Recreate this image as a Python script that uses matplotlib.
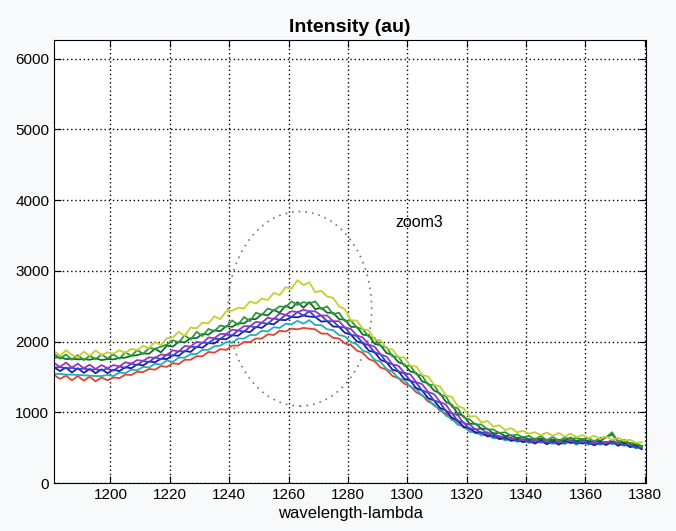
import numpy as np
import matplotlib
matplotlib.use("Agg")
import matplotlib.pyplot as plt
from matplotlib.patches import Ellipse

plt.rcParams['font.family'] = ['Liberation Sans', 'DejaVu Sans']

# wavelength samples (every 2 nm)
wl = np.arange(1181, 1381, 2)

yellow = [1870, 1800, 1880, 1815, 1780, 1860, 1800, 1875, 1810, 1850,
          1830, 1880, 1840, 1900, 1880, 1940, 1910, 2000, 1950, 2050,
          2060, 2140, 2080, 2200, 2190, 2270, 2260, 2360, 2320, 2430,
          2440, 2480, 2470, 2570, 2540, 2610, 2590, 2690, 2660, 2770,
          2750, 2870, 2800, 2840, 2700, 2720, 2640, 2620, 2500, 2460,
          2300, 2300, 2180, 2160, 2030, 2020, 1900, 1890, 1780, 1780,
          1660, 1650, 1530, 1510, 1390, 1370, 1240, 1220, 1090, 1060,
          940, 950, 860, 880, 800, 820, 750, 780, 720, 740,
          700, 720, 680, 715, 670, 710, 660, 700, 650, 680,
          640, 670, 625, 660, 610, 640, 600, 615, 570, 580]
green = [1830, 1760, 1820, 1745, 1810, 1740, 1800, 1755, 1820, 1765,
         1820, 1760, 1850, 1800, 1880, 1830, 1910, 1900, 1930, 1960,
         2020, 1990, 2090, 2030, 2140, 2080, 2180, 2150, 2230, 2210,
         2300, 2240, 2350, 2290, 2410, 2380, 2470, 2440, 2500, 2490,
         2570, 2520, 2560, 2540, 2570, 2460, 2500, 2390, 2410, 2290,
         2300, 2200, 2180, 2070, 2050, 1940, 1920, 1790, 1790, 1660,
         1660, 1540, 1520, 1390, 1390, 1250, 1230, 1080, 1060, 930,
         900, 830, 830, 760, 760, 710, 720, 670, 690, 645,
         670, 615, 670, 605, 655, 600, 645, 625, 640, 620,
         640, 590, 640, 650, 720, 585, 615, 560, 570, 520]
darkgreen = [1775, 1780, 1755, 1760, 1750, 1755, 1745, 1765, 1740, 1755,
             1750, 1770, 1775, 1800, 1810, 1835, 1830, 1900, 1850, 1945,
             1930, 2000, 1990, 2050, 2050, 2110, 2100, 2160, 2150, 2220,
             2210, 2260, 2260, 2320, 2320, 2390, 2370, 2450, 2410, 2510,
             2470, 2560, 2480, 2560, 2460, 2480, 2410, 2410, 2320, 2310,
             2210, 2210, 2100, 2090, 1970, 1950, 1840, 1810, 1710, 1680,
             1580, 1560, 1440, 1410, 1310, 1270, 1150, 1110, 980, 950,
             840, 840, 770, 770, 700, 715, 665, 680, 635, 655,
             615, 630, 625, 615, 610, 615, 600, 645, 590, 630,
             590, 600, 600, 650, 690, 590, 580, 570, 535, 530]
purple = [1700, 1645, 1705, 1635, 1690, 1625, 1675, 1615, 1670, 1625,
          1670, 1650, 1710, 1690, 1740, 1730, 1780, 1770, 1820, 1810,
          1880, 1860, 1940, 1930, 2000, 1980, 2060, 2050, 2110, 2110,
          2170, 2160, 2220, 2220, 2280, 2270, 2340, 2320, 2400, 2380,
          2430, 2420, 2450, 2430, 2430, 2370, 2370, 2290, 2290, 2200,
          2180, 2090, 2060, 1960, 1930, 1820, 1790, 1680, 1660, 1560,
          1540, 1430, 1400, 1290, 1260, 1150, 1110, 990, 960, 850,
          830, 760, 770, 700, 710, 650, 670, 625, 645, 605,
          625, 585, 635, 575, 620, 570, 615, 595, 605, 585,
          605, 560, 605, 565, 615, 555, 590, 535, 550, 505]
blue = [1635, 1640, 1625, 1630, 1615, 1620, 1605, 1610, 1595, 1620,
        1590, 1650, 1630, 1690, 1670, 1730, 1710, 1780, 1750, 1820,
        1800, 1870, 1860, 1930, 1920, 1990, 1980, 2040, 2040, 2100,
        2090, 2160, 2140, 2220, 2200, 2270, 2250, 2330, 2310, 2380,
        2350, 2420, 2370, 2430, 2350, 2370, 2290, 2290, 2210, 2200,
        2100, 2080, 1980, 1950, 1850, 1820, 1710, 1680, 1580, 1550,
        1450, 1420, 1310, 1280, 1170, 1140, 1020, 990, 880, 860,
        760, 770, 700, 720, 650, 670, 620, 645, 595, 625,
        580, 605, 585, 595, 570, 590, 565, 615, 555, 605,
        555, 580, 555, 585, 565, 575, 540, 555, 500, 520]
navy = [1640, 1585, 1635, 1565, 1625, 1560, 1615, 1555, 1610, 1555,
        1605, 1585, 1640, 1625, 1680, 1665, 1720, 1710, 1760, 1755,
        1810, 1800, 1870, 1855, 1930, 1915, 1980, 1975, 2040, 2035,
        2090, 2085, 2150, 2135, 2210, 2195, 2260, 2245, 2310, 2305,
        2350, 2345, 2370, 2355, 2350, 2285, 2290, 2215, 2210, 2125,
        2100, 2005, 1980, 1875, 1850, 1745, 1710, 1605, 1580, 1475,
        1450, 1345, 1310, 1205, 1170, 1065, 1030, 925, 890, 795,
        780, 715, 720, 665, 680, 625, 645, 600, 620, 580,
        605, 560, 610, 550, 600, 545, 595, 570, 585, 560,
        585, 535, 585, 540, 595, 530, 570, 510, 530, 480]
cyan = [1545, 1545, 1535, 1535, 1530, 1525, 1520, 1515, 1515, 1530,
        1515, 1565, 1555, 1605, 1595, 1645, 1635, 1690, 1675, 1735,
        1715, 1775, 1775, 1825, 1825, 1885, 1885, 1935, 1945, 1995,
        1985, 2045, 2045, 2095, 2095, 2155, 2145, 2205, 2195, 2255,
        2245, 2295, 2255, 2305, 2235, 2235, 2175, 2165, 2095, 2075,
        1995, 1965, 1875, 1845, 1745, 1715, 1615, 1575, 1485, 1455,
        1365, 1335, 1235, 1195, 1095, 1055, 955, 915, 825, 805,
        725, 725, 675, 685, 635, 645, 605, 625, 585, 605,
        570, 585, 575, 575, 560, 570, 555, 595, 545, 585,
        545, 560, 545, 565, 555, 555, 530, 540, 495, 515]
red = [1530, 1475, 1520, 1455, 1515, 1450, 1505, 1440, 1495, 1455,
       1495, 1485, 1535, 1530, 1575, 1570, 1615, 1605, 1655, 1645,
       1695, 1685, 1745, 1745, 1795, 1795, 1855, 1845, 1895, 1885,
       1945, 1945, 1995, 1995, 2045, 2045, 2105, 2095, 2155, 2145,
       2185, 2175, 2195, 2185, 2175, 2115, 2115, 2055, 2045, 1975,
       1955, 1875, 1845, 1755, 1725, 1635, 1605, 1515, 1485, 1405,
       1375, 1285, 1245, 1155, 1115, 1025, 985, 895, 865, 785,
       765, 705, 715, 660, 670, 625, 640, 600, 620, 585,
       610, 565, 615, 555, 600, 550, 595, 575, 585, 565,
       585, 540, 585, 545, 595, 535, 570, 520, 535, 495]

series = [red, cyan, navy, blue, purple, darkgreen, green, yellow]
colors = ['#e3432c', '#22b0b4', '#1c1f9c', '#2f46d8', '#9a34c0', '#0f6e2a', '#2c9a3a', '#c6cf2a']

fig = plt.figure(figsize=(6.76, 5.31), dpi=100, facecolor='#f8f9fb')
ax = fig.add_axes([0.080, 0.090, 0.876, 0.834])

for s, c in zip(series, colors):
    ax.plot(wl, s, color=c, lw=1.3)

# dotted zoom ellipse
ell = Ellipse((1263.8, 2465), 48.4, 2750, fill=False, ls=(0, (1, 3)), lw=1.2, ec='#8a6e66')
ax.add_patch(ell)
ax.text(1296, 3690, 'zoom3', fontsize=11.5, va='center', ha='left')

ax.set_xlim(1181, 1380.5)
ax.set_ylim(0, 6260)
ax.set_xticks(np.arange(1200, 1381, 20))
ax.set_yticks(np.arange(0, 6001, 1000))
ax.grid(True, ls=(0, (1, 2)), color='k', lw=1.0)
ax.tick_params(direction='in', top=True, right=True, labelsize=11, length=5)
ax.set_title('Intensity (au)', fontsize=14, fontweight='bold', pad=6)
ax.set_xlabel('wavelength-lambda', fontsize=12, labelpad=3)

fig.savefig('out.png', dpi=100, facecolor=fig.get_facecolor())
